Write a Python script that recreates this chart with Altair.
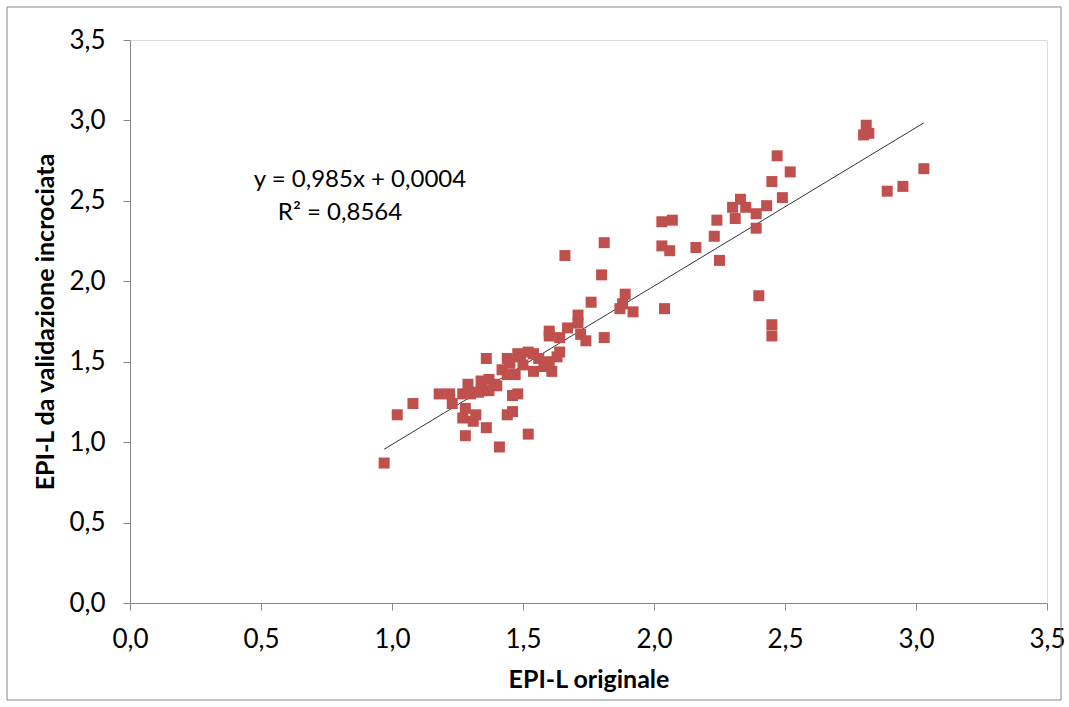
import altair as alt
import pandas as pd

# EPI-L originale (x) and EPI-L da validazione incrociata (y)
x_orig = [0.97, 1.02, 1.08, 1.18, 1.22, 1.23, 1.27, 1.29, 1.28, 1.27,
          1.28, 1.31, 1.32, 1.30, 1.34, 1.34, 1.36, 1.36, 1.37, 1.37,
          1.40, 1.41, 1.42, 1.44, 1.44, 1.44, 1.46, 1.46, 1.48, 1.47,
          1.48, 1.50, 1.52, 1.52, 1.54, 1.54, 1.56, 1.58, 1.60, 1.60,
          1.60, 1.61, 1.63, 1.64, 1.64, 1.66, 1.67, 1.71, 1.71, 1.72,
          1.74, 1.76, 1.80, 1.81, 1.81, 1.88, 1.87, 1.89, 1.92, 2.04,
          2.03, 2.07, 2.03, 2.06, 2.16, 2.23, 2.24, 2.25, 2.30, 2.31,
          2.33, 2.35, 2.39, 2.39, 2.40, 2.43, 2.45, 2.45, 2.45, 2.47,
          2.49, 2.52, 2.81, 2.82, 2.80, 2.89, 2.95, 3.03, 1.49, 1.45,
          1.33, 1.39]
y_cv = [0.87, 1.17, 1.24, 1.30, 1.30, 1.24, 1.30, 1.36, 1.21, 1.15,
        1.04, 1.13, 1.17, 1.30, 1.38, 1.32, 1.52, 1.09, 1.39, 1.32,
        1.35, 0.97, 1.45, 1.42, 1.52, 1.17, 1.19, 1.29, 1.30, 1.42,
        1.55, 1.48, 1.56, 1.05, 1.44, 1.55, 1.52, 1.47, 1.66, 1.69,
        1.50, 1.44, 1.53, 1.56, 1.65, 2.16, 1.71, 1.79, 1.74, 1.67,
        1.63, 1.87, 2.04, 2.24, 1.65, 1.86, 1.83, 1.92, 1.81, 1.83,
        2.37, 2.38, 2.22, 2.19, 2.21, 2.28, 2.38, 2.13, 2.46, 2.39,
        2.51, 2.46, 2.42, 2.33, 1.91, 2.47, 2.62, 1.73, 1.66, 2.78,
        2.52, 2.68, 2.97, 2.92, 2.91, 2.56, 2.59, 2.70, 1.53, 1.49,
        1.31, 1.36]

# Trend line from the published equation
slope = 0.985
intercept = 0.0004
eq_lines = ["y = 0,985x + 0,0004", "R² = 0,8564"]
axis_ticks = [0.0, 0.5, 1.0, 1.5, 2.0, 2.5, 3.0, 3.5]

df = pd.DataFrame({"x": x_orig, "y": y_cv})
xmin, xmax = min(x_orig), max(x_orig)
trend = pd.DataFrame({"x": [xmin, xmax],
                      "y": [slope * xmin + intercept, slope * xmax + intercept]})

FONT = "Lato"
GRAY = "#868686"
W, H = 917, 563
label_expr = "replace(format(datum.value, '.1f'), '.', ',')"

xscale = alt.Scale(domain=[0, 3.5], nice=False, zero=True)
yscale = alt.Scale(domain=[0, 3.5], nice=False, zero=True)

xaxis = alt.Axis(values=axis_ticks, labelExpr=label_expr, grid=False,
                 domainColor=GRAY, tickColor=GRAY, tickSize=7,
                 labelFont=FONT, labelFontSize=26, labelColor="black",
                 labelPadding=16, titleFont=FONT, titleFontSize=25,
                 titleFontWeight="bold", titleColor="black", titlePadding=15,
                 labelFlush=False)
yaxis = alt.Axis(values=axis_ticks, labelExpr=label_expr, grid=False,
                 domainColor=GRAY, tickColor=GRAY, tickSize=7,
                 labelFont=FONT, labelFontSize=26, labelColor="black",
                 labelPadding=18, titleFont=FONT, titleFontSize=25,
                 titleFontWeight="bold", titleColor="black", titlePadding=10,
                 labelFlush=False)

points = alt.Chart(df).mark_square(size=121, color="#C0504D", opacity=1).encode(
    x=alt.X("x:Q", scale=xscale, axis=xaxis, title="EPI-L originale"),
    y=alt.Y("y:Q", scale=yscale, axis=yaxis, title="EPI-L da validazione incrociata"),
)

line = alt.Chart(trend).mark_line(color="#333333", strokeWidth=1).encode(
    x=alt.X("x:Q", scale=xscale), y=alt.Y("y:Q", scale=yscale)
)

eq = alt.Chart(pd.DataFrame({"t": [eq_lines[0]]})).mark_text(
    font=FONT, fontSize=24, color="black", align="center", baseline="middle"
).encode(x=alt.value(230), y=alt.value(140), text="t:N")

r2 = alt.Chart(pd.DataFrame({"t": [eq_lines[1]]})).mark_text(
    font=FONT, fontSize=24, color="black", align="center", baseline="middle"
).encode(x=alt.value(210), y=alt.value(173), text="t:N")

border = alt.Chart(pd.DataFrame({"a": [0]})).mark_rect(
    fill=None, stroke=GRAY, strokeWidth=1
).encode(x=alt.value(-123), x2=alt.value(931), y=alt.value(-33), y2=alt.value(660))

chart = alt.layer(border, line, points, eq, r2).properties(
    width=W, height=H,
    autosize=alt.AutoSizeParams(type="none"),
    padding={"left": 130, "top": 40, "right": 22, "bottom": 104},
).configure_view(stroke=None).configure(background="white")

chart.save("out.html", embed_options={"renderer": "svg", "actions": False})
